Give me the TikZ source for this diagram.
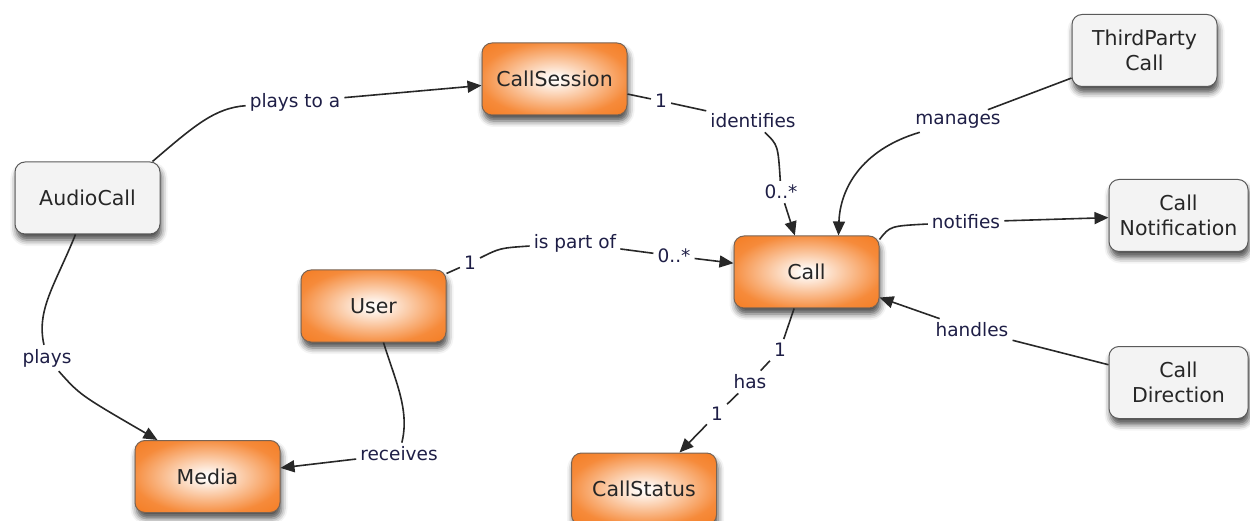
\documentclass[tikz,border=0pt]{standalone}
\usepackage{fontspec}
\setmainfont{DejaVu Sans}
\usetikzlibrary{arrows.meta,shadows.blur}
\definecolor{boxorange}{RGB}{244,118,24}
\definecolor{boxborder}{RGB}{120,100,85}
\definecolor{grayfill}{RGB}{243,243,243}
\definecolor{grayborder}{RGB}{90,90,90}
\definecolor{lbltext}{RGB}{30,30,70}
\definecolor{edgecol}{RGB}{40,40,40}
\pgfdeclareradialshading{orangeglow}{\pgfpoint{0bp}{0bp}}{color(0bp)=(white); color(3bp)=(white!94!boxorange); color(26bp)=(boxorange!85!white); color(40bp)=(boxorange); color(50bp)=(boxorange)}
\tikzset{
  concept/.style={rectangle, rounded corners=10pt, minimum width=145pt, minimum height=72pt,
    align=center, font=\fontsize{20.5}{25}\selectfont, text=black!85, line width=1pt,
    blur shadow={shadow xshift=1.5pt, shadow yshift=-6pt, shadow blur radius=6pt, shadow opacity=70}},
  orangebox/.style={concept, draw=boxborder, shading=orangeglow},
  graybox/.style={concept, draw=grayborder, fill=grayfill},
  lbl/.style={inner sep=4pt, font=\fontsize{18.5}{22}\selectfont, text=lbltext},
  edge/.style={draw=edgecol, line width=1.6pt},
  arr/.style={edge, -{Triangle[length=14pt,width=12pt]}},
}
\begin{document}
\begin{tikzpicture}[x=1pt,y=-1pt]
\useasboundingbox (0,0) rectangle (1250,521);
% concept boxes
\node[graybox] (ac) at (87.5,198) {AudioCall};
\node[orangebox] (cs) at (554.5,79) {CallSession};
\node[graybox] (tp) at (1144.5,50.5) {ThirdParty\\Call};
\node[graybox, minimum width=139pt] (cn) at (1178.5,215.5) {Call\\Notification};
\node[orangebox] (call) at (806.5,272) {Call};
\node[orangebox] (user) at (373.5,306) {User};
\node[graybox, minimum width=139pt] (cd) at (1178.5,382.5) {Call\\Direction};
\node[orangebox] (media) at (207.5,476.5) {Media};
\node[orangebox] (cst) at (644,489) {CallStatus};
% labels
\node[lbl] (lPlaysTo) at (295,102) {plays to a};
\node[lbl] (l1a) at (661,101) {1};
\node[lbl] (lIdent) at (753,121) {identifies};
\node[lbl] (l0a) at (781,192) {0..*};
\node[lbl] (l1b) at (470,263) {1};
\node[lbl] (lPart) at (575,243) {is part of};
\node[lbl] (l0b) at (674,256) {0..*};
\node[lbl] (lMan) at (958,121) {manages};
\node[lbl] (lNot) at (966,222) {notifies};
\node[lbl] (lHand) at (972,330) {handles};
\node[lbl] (l1c) at (780,350) {1};
\node[lbl] (lHas) at (750,382) {has};
\node[lbl] (l1d) at (717,414) {1};
\node[lbl] (lPlays) at (47,358) {plays};
\node[lbl] (lRec) at (399,454) {receives};
% connectors
\draw[edge] ([xshift=-8pt]ac.north east) .. controls (195,125) and (215,108) .. (lPlaysTo);
\draw[arr] (lPlaysTo) -- (cs);
\draw[edge] (cs) -- (l1a);
\draw[edge] (l1a) -- (lIdent);
\draw[edge] (lIdent) .. controls (778,145) .. (l0a);
\draw[arr] (l0a) -- (call);
\draw[edge] (user) -- (l1b);
\draw[edge] (l1b) .. controls (500,248) .. (lPart);
\draw[edge] (lPart) -- (l0b);
\draw[arr] (l0b) -- (call);
\draw[edge] (tp) -- (lMan);
\draw[arr] (lMan) .. controls (860,150) and (840,190) .. ([xshift=32pt]call.north);
\draw[edge] (call.24) .. controls (890,226) .. (lNot);
\draw[arr] (lNot) -- (cn);
\draw[edge] (cd) -- (lHand);
\draw[arr] (lHand) -- (call);
\draw[edge] (call) -- (l1c);
\draw[edge] (l1c) -- (lHas);
\draw[edge] (lHas) -- (l1d);
\draw[arr] (l1d) -- (cst);
\draw[edge] ([xshift=-12pt]ac.south) .. controls (55,285) and (36,310) .. (lPlays);
\draw[arr] (lPlays) .. controls (80,395) .. ([xshift=-50pt]media.north);
\draw[edge] ([xshift=10pt]user.south) .. controls (395,380) and (410,410) .. (lRec);
\draw[arr] (lRec) -- (media);
\end{tikzpicture}
\end{document}
